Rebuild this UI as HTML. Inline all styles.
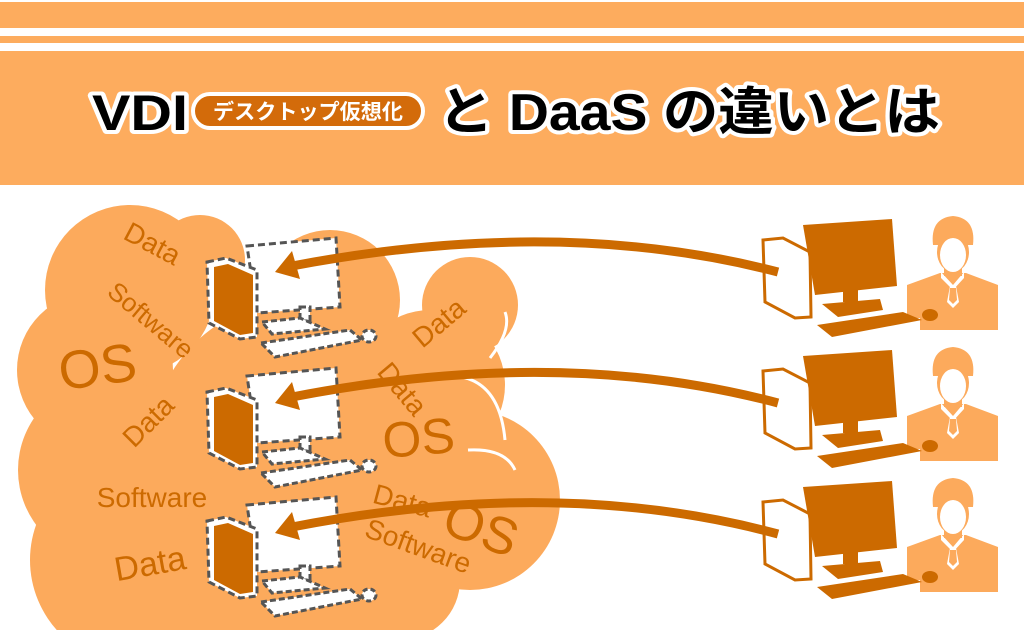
<!DOCTYPE html>
<html><head><meta charset="utf-8"><style>html,body{margin:0;padding:0;background:#fff;width:1024px;height:630px;overflow:hidden}svg{display:block}</style></head>
<body>
<svg width="1024" height="630" viewBox="0 0 1024 630" xmlns="http://www.w3.org/2000/svg">
<defs>
<g id="vm">
  <polygon points="247,246 336,238 340,307 257,313" fill="#fff" stroke="#555" stroke-width="3" stroke-dasharray="7,4"/>
  <rect x="300" y="307" width="10" height="14" fill="#fff" stroke="#555" stroke-width="3" stroke-dasharray="6,3"/>
  <polygon points="262,322 300,318 325,329 272,334" fill="#fff" stroke="#555" stroke-width="3" stroke-dasharray="6,3"/>
  <polygon points="261,343 350,330 362,340 275,357" fill="#fff" stroke="#555" stroke-width="3" stroke-dasharray="6,3"/>
  <ellipse cx="369" cy="336" rx="7" ry="6" fill="#fff" stroke="#555" stroke-width="3" stroke-dasharray="5,3"/>
  <polygon points="207,262 226,258 257,270 257,337 240,339 209,323" fill="#fff" stroke="#555" stroke-width="3" stroke-dasharray="7,4"/>
  <polygon points="214,267 228,264 253,275 253,333 240,335 214,321" fill="#cc6a00"/>
</g>
<g id="pc">
  <polygon points="763,240 783,238 810,252 811,317 795,318 765,302" fill="#fff" stroke="#cc6a00" stroke-width="3"/>
  <polygon points="803,225 892,219 897,286 815,295" fill="#cc6a00"/>
  <rect x="843" y="290" width="15" height="12" fill="#cc6a00"/>
  <polygon points="822,304 880,299 883,310 838,317" fill="#cc6a00"/>
  <path d="M907,285 L940,273 L966,273 L998,285 L998,330 L920,330 L920,318 L907,318 Z" fill="#fcaa5c"/>
  <polygon points="817,325 903,312 922,320 832,337" fill="#cc6a00"/>
  <ellipse cx="930" cy="315" rx="8" ry="6" fill="#cc6a00"/>
  <path d="M941,272 L953,285 L964,272 L964,278 L953,290 L941,278Z" fill="#fff"/>
  <path d="M950,286 L956,286 L959,302 L953,308 L947,302Z" fill="#fff"/>
  <path d="M950,288 L956,288 L957,300 L953,304 L949,300Z" fill="#fcaa5c"/>
  <rect x="944" y="262" width="18" height="14" fill="#fcaa5c"/>
  <path d="M933,245 Q930,218 953,216 Q976,218 973,245 Z" fill="#fcaa5c"/>
  <ellipse cx="953" cy="252" rx="16" ry="20" fill="#fcaa5c"/>
  <ellipse cx="953" cy="255" rx="13" ry="17" fill="#fff"/>
  <path d="M938,248 Q937,226 953,226 Q969,226 968,248 Q966,236 953,238 Q942,236 938,248Z" fill="#fcaa5c"/>
</g>
</defs>
<rect x="0" y="0" width="1024" height="185" fill="#fdac5e"/>
<rect x="0" y="28" width="1024" height="8" fill="#fff"/>
<rect x="0" y="43" width="1024" height="8" fill="#fff"/>
<rect x="0" y="0" width="1024" height="2" fill="#fff"/>
<g font-family="Liberation Sans, Noto Sans CJK JP, sans-serif" font-weight="bold">
<text x="92" y="130" font-size="50" fill="#000" stroke="#fff" stroke-width="8" stroke-linejoin="round" paint-order="stroke" textLength="96" lengthAdjust="spacingAndGlyphs">VDI</text>
<rect x="193" y="94" width="230" height="34" rx="17" fill="#d36b0a" stroke="#fff" stroke-width="4"/>
<text x="308" y="119" font-size="21" fill="#fff" text-anchor="middle" textLength="190" lengthAdjust="spacingAndGlyphs">デスクトップ仮想化</text>
<text x="438" y="130" font-size="52" fill="#000" stroke="#fff" stroke-width="8" stroke-linejoin="round" paint-order="stroke" textLength="502" lengthAdjust="spacingAndGlyphs">と DaaS の違いとは</text>
</g>
<g fill="#fcaa5c">
<circle cx="130" cy="290" r="85"/><circle cx="95" cy="370" r="78"/><circle cx="110" cy="470" r="92"/>
<circle cx="135" cy="560" r="105"/><circle cx="330" cy="300" r="70"/><circle cx="470" cy="305" r="48"/>
<circle cx="430" cy="385" r="75"/><circle cx="470" cy="500" r="90"/><circle cx="300" cy="450" r="150"/>
<circle cx="300" cy="560" r="120"/><circle cx="400" cy="580" r="60"/><circle cx="200" cy="260" r="45"/>
</g>
<g fill="none" stroke="#fff" stroke-width="3">
<path d="M505,312 Q512,330 490,358"/><path d="M462,377 Q500,385 505,440"/><path d="M468,450 Q505,448 515,470"/>
</g>
<g font-family="Liberation Sans, sans-serif" fill="#cc6a00">
<text transform="translate(148,252) rotate(28)" font-size="28" text-anchor="middle">Data</text>
<text transform="translate(145,327) rotate(40)" font-size="26" text-anchor="middle">Software</text>
<text transform="translate(100,385) rotate(-8)" font-size="54" text-anchor="middle">OS</text>
<text transform="translate(155,428) rotate(-45)" font-size="28" text-anchor="middle">Data</text>
<text x="152" y="507" font-size="28" text-anchor="middle">Software</text>
<text transform="translate(152,575) rotate(-10)" font-size="34" text-anchor="middle">Data</text>
<text transform="translate(445,330) rotate(-40)" font-size="28" text-anchor="middle">Data</text>
<text transform="translate(395,395) rotate(50)" font-size="28" text-anchor="middle">Data</text>
<text transform="translate(420,455) rotate(-5)" font-size="50" text-anchor="middle">OS</text>
<text transform="translate(400,510) rotate(15)" font-size="28" text-anchor="middle">Data</text>
<text transform="translate(475,545) rotate(20)" font-size="52" text-anchor="middle">OS</text>
<text transform="translate(415,555) rotate(20)" font-size="28" text-anchor="middle">Software</text>
</g>
<use href="#vm"/>
<use href="#vm" y="130"/>
<use href="#vm" y="259"/>
<use href="#pc"/>
<use href="#pc" y="131"/>
<use href="#pc" y="262"/>
<g fill="none" stroke="#cc6a00" stroke-width="9">
<path d="M778,272 Q560,215 292,266"/>
<path d="M778,403 Q560,345 292,397"/>
<path d="M778,534 Q560,475 292,527"/>
</g>
<g fill="#cc6a00">
<polygon points="275,272 292,251 300,279"/>
<polygon points="275,403 292,382 300,410"/>
<polygon points="275,533 292,512 300,540"/>
</g>
</svg>
</body></html>
